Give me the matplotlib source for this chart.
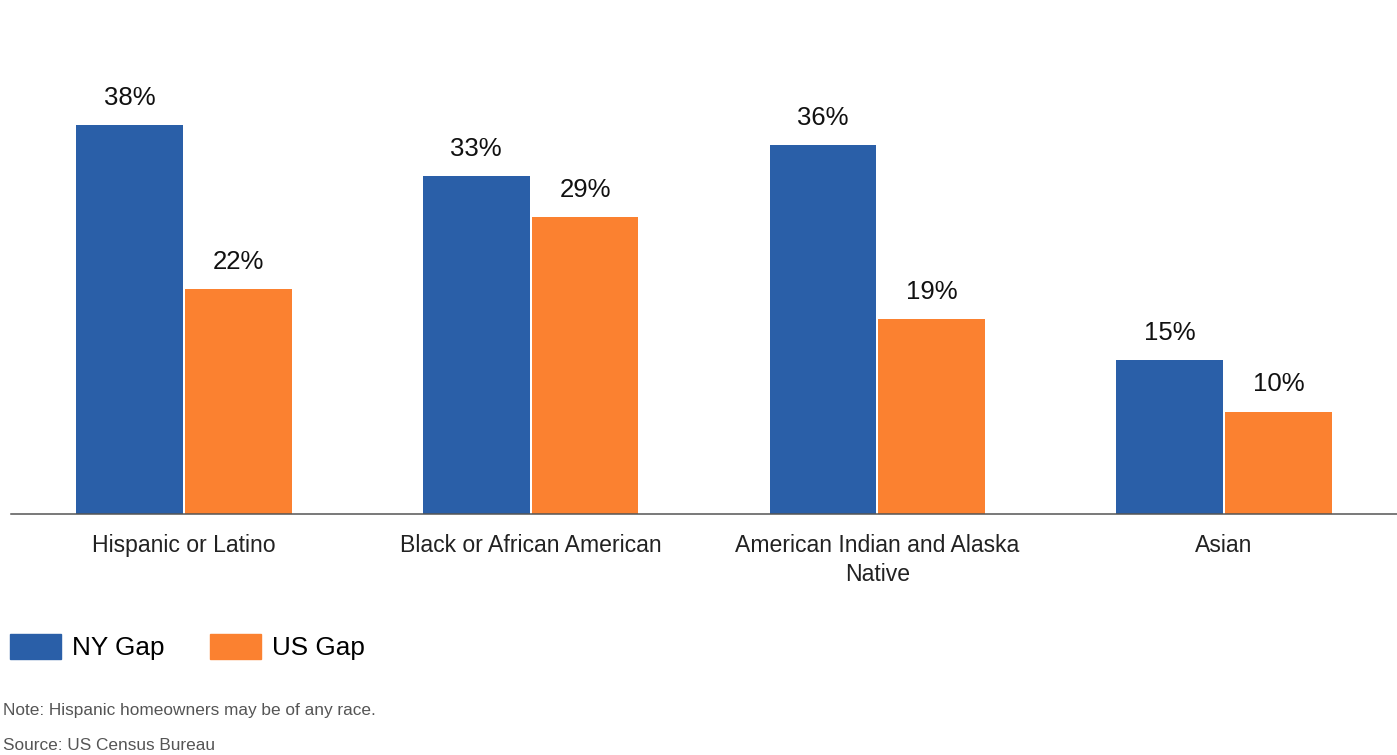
import numpy as np
import matplotlib.pyplot as plt
from matplotlib.patches import Patch

plt.rcParams['font.family'] = ['Liberation Sans', 'DejaVu Sans']

# Homeownership gap by group (percentage points)
categories = ["Hispanic or Latino", "Black or African American",
              "American Indian and Alaska\nNative", "Asian"]
ny_gap = [38, 33, 36, 15]
us_gap = [22, 29, 19, 10]
series_names = ["NY Gap", "US Gap"]

blue = "#2a5fa8"
orange = "#fb8130"

fig = plt.figure(figsize=(13.97, 7.55), dpi=100)
ax = fig.add_axes([10.5 / 1397, 241 / 755, 1387 / 1397, 512 / 755])

x = np.arange(len(categories))
w = 0.308
b1 = ax.bar(x - w / 2 - 0.003, ny_gap, w, color=blue)
b2 = ax.bar(x + w / 2 + 0.003, us_gap, w, color=orange)

for bars, vals in [(b1, ny_gap), (b2, us_gap)]:
    for r, v in zip(bars, vals):
        ax.annotate(f"{v}%", (r.get_x() + r.get_width() / 2, r.get_height()),
                    xytext=(0, 14.5), textcoords="offset points",
                    ha="center", va="baseline", fontsize=18.5, color="#111111")

ax.set_xlim(-0.5, 3.5)
ax.set_ylim(0, 50)
ax.set_yticks([])
ax.set_xticks(x)
ax.set_xticklabels(categories, fontsize=16.6, color="#222222", linespacing=1.3)
ax.tick_params(axis="x", length=0, pad=14.5)
for s in ["top", "right", "left"]:
    ax.spines[s].set_visible(False)
ax.spines["bottom"].set_color("#555555")
ax.spines["bottom"].set_linewidth(1.1)

handles = [Patch(color=blue), Patch(color=orange)]
fig.legend(handles, series_names, loc="center left", bbox_to_anchor=(10 / 1397, 108 / 755),
           ncol=2, frameon=False, fontsize=18.8, handlelength=1.95, handleheight=1.12,
           handletextpad=0.42, columnspacing=1.75, borderpad=0, borderaxespad=0)

fig.text(3 / 1397, 45 / 755, "Note: Hispanic homeowners may be of any race.",
         fontsize=12.4, color="#555555", va="center", ha="left")
fig.text(3 / 1397, 10 / 755, "Source: US Census Bureau",
         fontsize=12.4, color="#555555", va="center", ha="left")

fig.savefig("out.png", dpi=100)
